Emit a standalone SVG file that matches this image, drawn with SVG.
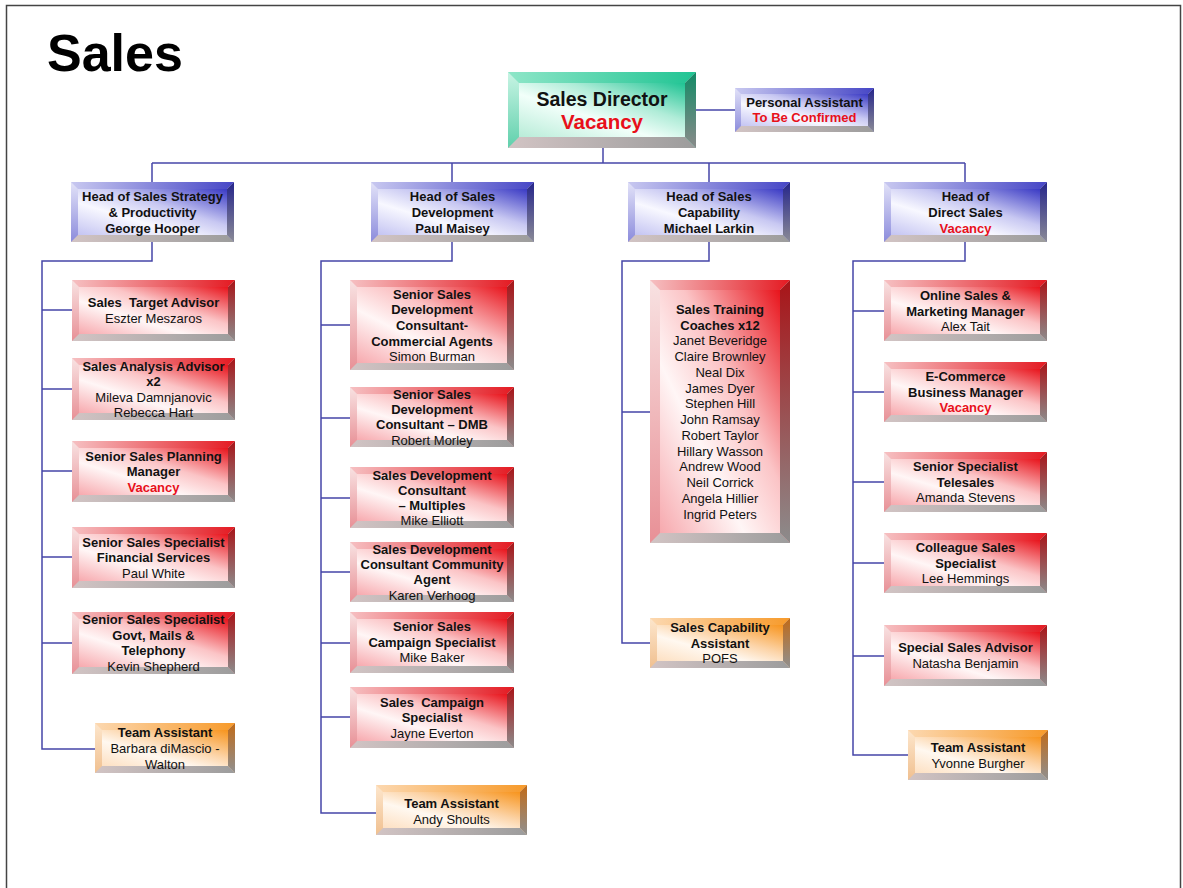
<svg xmlns="http://www.w3.org/2000/svg" width="1183" height="888" viewBox="0 0 1183 888">
<defs>
<linearGradient id="redF" x1="0" y1="1" x2="1" y2="0"><stop offset="0" stop-color="#f7a9ae"/><stop offset="0.35" stop-color="#fff6f6"/><stop offset="0.6" stop-color="#fbc4c6"/><stop offset="1" stop-color="#e8141c"/></linearGradient>
<linearGradient id="redT" x1="0" y1="0" x2="1" y2="0"><stop offset="0" stop-color="#f6c0c2"/><stop offset="1" stop-color="#e41a22"/></linearGradient>
<linearGradient id="redR" x1="0" y1="0" x2="0" y2="1"><stop offset="0" stop-color="#a81418"/><stop offset="1" stop-color="#8c8c8c"/></linearGradient>
<linearGradient id="redL" x1="0" y1="0" x2="0" y2="1"><stop offset="0" stop-color="#f8e2e2"/><stop offset="1" stop-color="#e89096"/></linearGradient>
<linearGradient id="greyB" x1="0" y1="0" x2="1" y2="0"><stop offset="0" stop-color="#d2c4c4"/><stop offset="1" stop-color="#9c9c9c"/></linearGradient>
<linearGradient id="bluF" x1="0" y1="1" x2="1" y2="0"><stop offset="0" stop-color="#c4c4f2"/><stop offset="0.35" stop-color="#f8f8ff"/><stop offset="0.6" stop-color="#c8c8f2"/><stop offset="1" stop-color="#3a3ac4"/></linearGradient>
<linearGradient id="bluT" x1="0" y1="0" x2="1" y2="0"><stop offset="0" stop-color="#c8c8f0"/><stop offset="1" stop-color="#4646c6"/></linearGradient>
<linearGradient id="bluR" x1="0" y1="0" x2="0" y2="1"><stop offset="0" stop-color="#25258a"/><stop offset="1" stop-color="#8a8a96"/></linearGradient>
<linearGradient id="bluL" x1="0" y1="0" x2="0" y2="1"><stop offset="0" stop-color="#e2e2f8"/><stop offset="1" stop-color="#8c8cdc"/></linearGradient>
<linearGradient id="grnF" x1="0" y1="1" x2="1" y2="0"><stop offset="0" stop-color="#b8ecd8"/><stop offset="0.4" stop-color="#f2fffa"/><stop offset="0.65" stop-color="#b0ecd8"/><stop offset="1" stop-color="#1ec393"/></linearGradient>
<linearGradient id="grnT" x1="0" y1="0" x2="1" y2="0"><stop offset="0" stop-color="#8ee6c8"/><stop offset="1" stop-color="#20c493"/></linearGradient>
<linearGradient id="grnR" x1="0" y1="0" x2="0" y2="1"><stop offset="0" stop-color="#138a66"/><stop offset="1" stop-color="#8a8a8a"/></linearGradient>
<linearGradient id="grnL" x1="0" y1="0" x2="0" y2="1"><stop offset="0" stop-color="#c8f4e4"/><stop offset="1" stop-color="#60d0ac"/></linearGradient>
<linearGradient id="orgF" x1="0" y1="1" x2="1" y2="0"><stop offset="0" stop-color="#fde0c2"/><stop offset="0.35" stop-color="#fff8f0"/><stop offset="0.6" stop-color="#fcd4a8"/><stop offset="1" stop-color="#f7941d"/></linearGradient>
<linearGradient id="orgT" x1="0" y1="0" x2="1" y2="0"><stop offset="0" stop-color="#fcd8b0"/><stop offset="1" stop-color="#f79a2a"/></linearGradient>
<linearGradient id="orgR" x1="0" y1="0" x2="0" y2="1"><stop offset="0" stop-color="#c06a18"/><stop offset="1" stop-color="#909090"/></linearGradient>
<linearGradient id="orgL" x1="0" y1="0" x2="0" y2="1"><stop offset="0" stop-color="#fde6cc"/><stop offset="1" stop-color="#f0c090"/></linearGradient>
</defs>
<style>
text{font-family:"Liberation Sans",Arial,sans-serif;font-size:13px;fill:#111;text-anchor:middle}
.bd{font-weight:bold}
.vac{font-weight:bold;fill:#e8101a}
.title{font-size:52px;font-weight:bold;text-anchor:start;fill:#000}
.conn path{fill:none;stroke:#4646a8;stroke-width:1.5}
.frame{fill:none;stroke:#444;stroke-width:1.5}
.red .o{fill:url(#redL)} .red .t{fill:url(#redT)} .red .r{fill:url(#redR)} .red .b{fill:url(#greyB)} .red .f{fill:url(#redF)}
.blu .o{fill:url(#bluL)} .blu .t{fill:url(#bluT)} .blu .r{fill:url(#bluR)} .blu .b{fill:url(#greyB)} .blu .f{fill:url(#bluF)}
.grn .o{fill:url(#grnL)} .grn .t{fill:url(#grnT)} .grn .r{fill:url(#grnR)} .grn .b{fill:url(#greyB)} .grn .f{fill:url(#grnF)}
.org .o{fill:url(#orgL)} .org .t{fill:url(#orgT)} .org .r{fill:url(#orgR)} .org .b{fill:url(#greyB)} .org .f{fill:url(#orgF)}
</style>
<rect width="1183" height="888" fill="#fff"/>
<path class="frame" d="M6.5 888 V5.5 H1180.5 V888"/>
<text class="title" x="47" y="71">Sales</text>

<g class="conn" id="connectors">
<path d="M696 110 H735"/>
<path d="M603 148 V163"/>
<path d="M152 163 H965"/>
<path d="M152 163 V182 M452 163 V182 M709 163 V182 M965 163 V182"/>
<path d="M152 242 V261 H42 V749 H95 M42 310 H72 M42 389 H72 M42 471 H72 M42 557 H72 M42 643 H72"/>
<path d="M452 242 V261 H321 V813 H376 M321 325 H350 M321 418 H350 M321 498 H350 M321 572 H350 M321 643 H350 M321 717 H350"/>
<path d="M709 242 V261 H622 V643 H650 M622 412 H650"/>
<path d="M965 242 V261 H853 V755 H908 M853 311 H884 M853 392 H884 M853 482 H884 M853 563 H884 M853 656 H884"/>
</g>

<g id="sales-director" class="grn">
<rect class="o" x="508" y="72" width="188" height="76"/>
<polygon class="t" points="508,72 696,72 685,83 519,83"/>
<polygon class="r" points="696,72 696,148 685,137 685,83"/>
<polygon class="b" points="508,148 696,148 685,137 519,137"/>
<rect class="f" x="519" y="83" width="166" height="54"/>
<text class="bd" x="602" y="106" style="font-size:19.5px">Sales Director</text>
<text class="vac" x="602" y="129" style="font-size:20.5px">Vacancy</text>
</g>

<g id="personal-assistant" class="blu">
<rect class="o" x="735" y="88" width="139" height="44"/>
<polygon class="t" points="735,88 874,88 868,94 741,94"/>
<polygon class="r" points="874,88 874,132 868,126 868,94"/>
<polygon class="b" points="735,132 874,132 868,126 741,126"/>
<rect class="f" x="741" y="94" width="127" height="32"/>
<text class="bd" x="804.5" y="106.5">Personal Assistant</text>
<text class="vac" x="804.5" y="122">To Be Confirmed</text>
</g>

<g id="head-strategy" class="blu">
<rect class="o" x="71" y="182" width="163" height="60"/>
<polygon class="t" points="71,182 234,182 227,189 78,189"/>
<polygon class="r" points="234,182 234,242 227,235 227,189"/>
<polygon class="b" points="71,242 234,242 227,235 78,235"/>
<rect class="f" x="78" y="189" width="149" height="46"/>
<text class="bd" x="152.5" y="201">Head of Sales Strategy</text>
<text class="bd" x="152.5" y="217">&amp; Productivity</text>
<text class="bd" x="152.5" y="233">George Hooper</text>
</g>

<g id="head-development" class="blu">
<rect class="o" x="371" y="182" width="163" height="60"/>
<polygon class="t" points="371,182 534,182 527,189 378,189"/>
<polygon class="r" points="534,182 534,242 527,235 527,189"/>
<polygon class="b" points="371,242 534,242 527,235 378,235"/>
<rect class="f" x="378" y="189" width="149" height="46"/>
<text class="bd" x="452.5" y="201">Head of Sales</text>
<text class="bd" x="452.5" y="217">Development</text>
<text class="bd" x="452.5" y="233">Paul Maisey</text>
</g>

<g id="head-capability" class="blu">
<rect class="o" x="628" y="182" width="162" height="60"/>
<polygon class="t" points="628,182 790,182 783,189 635,189"/>
<polygon class="r" points="790,182 790,242 783,235 783,189"/>
<polygon class="b" points="628,242 790,242 783,235 635,235"/>
<rect class="f" x="635" y="189" width="148" height="46"/>
<text class="bd" x="709" y="201">Head of Sales</text>
<text class="bd" x="709" y="217">Capability</text>
<text class="bd" x="709" y="233">Michael Larkin</text>
</g>

<g id="head-direct" class="blu">
<rect class="o" x="884" y="182" width="163" height="60"/>
<polygon class="t" points="884,182 1047,182 1040,189 891,189"/>
<polygon class="r" points="1047,182 1047,242 1040,235 1040,189"/>
<polygon class="b" points="884,242 1047,242 1040,235 891,235"/>
<rect class="f" x="891" y="189" width="149" height="46"/>
<text class="bd" x="965.5" y="201">Head of</text>
<text class="bd" x="965.5" y="217">Direct Sales</text>
<text class="vac" x="965.5" y="233">Vacancy</text>
</g>

<!-- Column 1 -->
<g id="c1-target" class="red">
<rect class="o" x="72" y="280" width="163" height="61"/>
<polygon class="t" points="72,280 235,280 228,287 79,287"/>
<polygon class="r" points="235,280 235,341 228,334 228,287"/>
<polygon class="b" points="72,341 235,341 228,334 79,334"/>
<rect class="f" x="79" y="287" width="149" height="47"/>
<text class="bd" x="153.5" y="307.4" style="white-space:pre">Sales  Target Advisor</text>
<text x="153.5" y="323">Eszter Meszaros</text>
</g>

<g id="c1-analysis" class="red">
<rect class="o" x="72" y="358" width="163" height="62"/>
<polygon class="t" points="72,358 235,358 228,365 79,365"/>
<polygon class="r" points="235,358 235,420 228,413 228,365"/>
<polygon class="b" points="72,420 235,420 228,413 79,413"/>
<rect class="f" x="79" y="365" width="149" height="48"/>
<text class="bd" x="153.5" y="370.5">Sales Analysis Advisor</text>
<text class="bd" x="153.5" y="386">x2</text>
<text x="153.5" y="401.5">Mileva Damnjanovic</text>
<text x="153.5" y="417">Rebecca Hart</text>
</g>

<g id="c1-planning" class="red">
<rect class="o" x="72" y="441" width="163" height="61"/>
<polygon class="t" points="72,441 235,441 228,448 79,448"/>
<polygon class="r" points="235,441 235,502 228,495 228,448"/>
<polygon class="b" points="72,502 235,502 228,495 79,495"/>
<rect class="f" x="79" y="448" width="149" height="47"/>
<text class="bd" x="153.5" y="460.5">Senior Sales Planning</text>
<text class="bd" x="153.5" y="476">Manager</text>
<text class="vac" x="153.5" y="491.5">Vacancy</text>
</g>

<g id="c1-financial" class="red">
<rect class="o" x="72" y="527" width="163" height="61"/>
<polygon class="t" points="72,527 235,527 228,534 79,534"/>
<polygon class="r" points="235,527 235,588 228,581 228,534"/>
<polygon class="b" points="72,588 235,588 228,581 79,581"/>
<rect class="f" x="79" y="534" width="149" height="47"/>
<text class="bd" x="153.5" y="546.7">Senior Sales Specialist</text>
<text class="bd" x="153.5" y="562.2">Financial Services</text>
<text x="153.5" y="577.7">Paul White</text>
</g>

<g id="c1-govt" class="red">
<rect class="o" x="72" y="612" width="163" height="62"/>
<polygon class="t" points="72,612 235,612 228,619 79,619"/>
<polygon class="r" points="235,612 235,674 228,667 228,619"/>
<polygon class="b" points="72,674 235,674 228,667 79,667"/>
<rect class="f" x="79" y="619" width="149" height="48"/>
<text class="bd" x="153.5" y="624">Senior Sales Specialist</text>
<text class="bd" x="153.5" y="639.7">Govt, Mails &amp;</text>
<text class="bd" x="153.5" y="655.4">Telephony</text>
<text x="153.5" y="671">Kevin Shepherd</text>
</g>

<g id="c1-assistant" class="org">
<rect class="o" x="95" y="723" width="140" height="50"/>
<polygon class="t" points="95,723 235,723 228,730 102,730"/>
<polygon class="r" points="235,723 235,773 228,766 228,730"/>
<polygon class="b" points="95,773 235,773 228,766 102,766"/>
<rect class="f" x="102" y="730" width="126" height="36"/>
<text class="bd" x="165" y="737">Team Assistant</text>
<text x="165" y="753">Barbara diMascio -</text>
<text x="165" y="769">Walton</text>
</g>

<!-- Column 2 -->
<g id="c2-commercial" class="red">
<rect class="o" x="350" y="280" width="164" height="90"/>
<polygon class="t" points="350,280 514,280 507,287 357,287"/>
<polygon class="r" points="514,280 514,370 507,363 507,287"/>
<polygon class="b" points="350,370 514,370 507,363 357,363"/>
<rect class="f" x="357" y="287" width="150" height="76"/>
<text class="bd" x="432" y="298.5">Senior Sales</text>
<text class="bd" x="432" y="314.2">Development</text>
<text class="bd" x="432" y="329.9">Consultant-</text>
<text class="bd" x="432" y="345.6">Commercial Agents</text>
<text x="432" y="361.3">Simon Burman</text>
</g>

<g id="c2-dmb" class="red">
<rect class="o" x="350" y="387" width="164" height="60"/>
<polygon class="t" points="350,387 514,387 507,394 357,394"/>
<polygon class="r" points="514,387 514,447 507,440 507,394"/>
<polygon class="b" points="350,447 514,447 507,440 357,440"/>
<rect class="f" x="357" y="394" width="150" height="46"/>
<text class="bd" x="432" y="398.8">Senior Sales</text>
<text class="bd" x="432" y="414">Development</text>
<text class="bd" x="432" y="429.3">Consultant – DMB</text>
<text x="432" y="444.6">Robert Morley</text>
</g>

<g id="c2-multiples" class="red">
<rect class="o" x="350" y="467" width="164" height="61"/>
<polygon class="t" points="350,467 514,467 507,474 357,474"/>
<polygon class="r" points="514,467 514,528 507,521 507,474"/>
<polygon class="b" points="350,528 514,528 507,521 357,521"/>
<rect class="f" x="357" y="474" width="150" height="47"/>
<text class="bd" x="432" y="479.5">Sales Development</text>
<text class="bd" x="432" y="494.8">Consultant</text>
<text class="bd" x="432" y="510.1">– Multiples</text>
<text x="432" y="525.4">Mike Elliott</text>
</g>

<g id="c2-community" class="red">
<rect class="o" x="350" y="542" width="164" height="60"/>
<polygon class="t" points="350,542 514,542 507,549 357,549"/>
<polygon class="r" points="514,542 514,602 507,595 507,549"/>
<polygon class="b" points="350,602 514,602 507,595 357,595"/>
<rect class="f" x="357" y="549" width="150" height="46"/>
<text class="bd" x="432" y="553.8">Sales Development</text>
<text class="bd" x="432" y="569">Consultant Community</text>
<text class="bd" x="432" y="584.3">Agent</text>
<text x="432" y="599.6">Karen Verhoog</text>
</g>

<g id="c2-senior-campaign" class="red">
<rect class="o" x="350" y="612" width="164" height="61"/>
<polygon class="t" points="350,612 514,612 507,619 357,619"/>
<polygon class="r" points="514,612 514,673 507,666 507,619"/>
<polygon class="b" points="350,673 514,673 507,666 357,666"/>
<rect class="f" x="357" y="619" width="150" height="47"/>
<text class="bd" x="432" y="631">Senior Sales</text>
<text class="bd" x="432" y="646.7">Campaign Specialist</text>
<text x="432" y="662.4">Mike Baker</text>
</g>

<g id="c2-campaign" class="red">
<rect class="o" x="350" y="687" width="164" height="61"/>
<polygon class="t" points="350,687 514,687 507,694 357,694"/>
<polygon class="r" points="514,687 514,748 507,741 507,694"/>
<polygon class="b" points="350,748 514,748 507,741 357,741"/>
<rect class="f" x="357" y="694" width="150" height="47"/>
<text class="bd" x="432" y="706.5" style="white-space:pre">Sales  Campaign</text>
<text class="bd" x="432" y="722.2">Specialist</text>
<text x="432" y="737.9">Jayne Everton</text>
</g>

<g id="c2-assistant" class="org">
<rect class="o" x="376" y="785" width="151" height="50"/>
<polygon class="t" points="376,785 527,785 520,792 383,792"/>
<polygon class="r" points="527,785 527,835 520,828 520,792"/>
<polygon class="b" points="376,835 527,835 520,828 383,828"/>
<rect class="f" x="383" y="792" width="137" height="36"/>
<text class="bd" x="451.5" y="807.5">Team Assistant</text>
<text x="451.5" y="823.5">Andy Shoults</text>
</g>

<!-- Column 3 -->
<g id="c3-coaches" class="red">
<rect class="o" x="650" y="280" width="140" height="263"/>
<polygon class="t" points="650,280 790,280 780,290 660,290"/>
<polygon class="r" points="790,280 790,543 780,533 780,290"/>
<polygon class="b" points="650,543 790,543 780,533 660,533"/>
<rect class="f" x="660" y="290" width="120" height="243"/>
<text class="bd" x="720" y="313.8">Sales Training</text>
<text class="bd" x="720" y="329.6">Coaches x12</text>
<text x="720" y="345.3">Janet Beveridge</text>
<text x="720" y="361.1">Claire Brownley</text>
<text x="720" y="376.8">Neal Dix</text>
<text x="720" y="392.6">James Dyer</text>
<text x="720" y="408.3">Stephen Hill</text>
<text x="720" y="424.1">John Ramsay</text>
<text x="720" y="439.8">Robert Taylor</text>
<text x="720" y="455.6">Hillary Wasson</text>
<text x="720" y="471.3">Andrew Wood</text>
<text x="720" y="487.1">Neil Corrick</text>
<text x="720" y="502.8">Angela Hillier</text>
<text x="720" y="518.6">Ingrid Peters</text>
</g>

<g id="c3-assistant" class="org">
<rect class="o" x="650" y="618" width="140" height="50"/>
<polygon class="t" points="650,618 790,618 783,625 657,625"/>
<polygon class="r" points="790,618 790,668 783,661 783,625"/>
<polygon class="b" points="650,668 790,668 783,661 657,661"/>
<rect class="f" x="657" y="625" width="126" height="36"/>
<text class="bd" x="720" y="632.3">Sales Capability</text>
<text class="bd" x="720" y="647.8">Assistant</text>
<text x="720" y="663.3">POFS</text>
</g>

<!-- Column 4 -->
<g id="c4-online" class="red">
<rect class="o" x="884" y="280" width="163" height="61"/>
<polygon class="t" points="884,280 1047,280 1040,287 891,287"/>
<polygon class="r" points="1047,280 1047,341 1040,334 1040,287"/>
<polygon class="b" points="884,341 1047,341 1040,334 891,334"/>
<rect class="f" x="891" y="287" width="149" height="47"/>
<text class="bd" x="965.5" y="299.8">Online Sales &amp;</text>
<text class="bd" x="965.5" y="315.5">Marketing Manager</text>
<text x="965.5" y="331.2">Alex Tait</text>
</g>

<g id="c4-ecommerce" class="red">
<rect class="o" x="884" y="362" width="163" height="60"/>
<polygon class="t" points="884,362 1047,362 1040,369 891,369"/>
<polygon class="r" points="1047,362 1047,422 1040,415 1040,369"/>
<polygon class="b" points="884,422 1047,422 1040,415 891,415"/>
<rect class="f" x="891" y="369" width="149" height="46"/>
<text class="bd" x="965.5" y="381">E-Commerce</text>
<text class="bd" x="965.5" y="396.7">Business Manager</text>
<text class="vac" x="965.5" y="412.4">Vacancy</text>
</g>

<g id="c4-telesales" class="red">
<rect class="o" x="884" y="452" width="163" height="60"/>
<polygon class="t" points="884,452 1047,452 1040,459 891,459"/>
<polygon class="r" points="1047,452 1047,512 1040,505 1040,459"/>
<polygon class="b" points="884,512 1047,512 1040,505 891,505"/>
<rect class="f" x="891" y="459" width="149" height="46"/>
<text class="bd" x="965.5" y="471">Senior Specialist</text>
<text class="bd" x="965.5" y="486.7">Telesales</text>
<text x="965.5" y="502.4">Amanda Stevens</text>
</g>

<g id="c4-colleague" class="red">
<rect class="o" x="884" y="533" width="163" height="60"/>
<polygon class="t" points="884,533 1047,533 1040,540 891,540"/>
<polygon class="r" points="1047,533 1047,593 1040,586 1040,540"/>
<polygon class="b" points="884,593 1047,593 1040,586 891,586"/>
<rect class="f" x="891" y="540" width="149" height="46"/>
<text class="bd" x="965.5" y="552">Colleague Sales</text>
<text class="bd" x="965.5" y="567.7">Specialist</text>
<text x="965.5" y="583.4">Lee Hemmings</text>
</g>

<g id="c4-special" class="red">
<rect class="o" x="884" y="625" width="163" height="61"/>
<polygon class="t" points="884,625 1047,625 1040,632 891,632"/>
<polygon class="r" points="1047,625 1047,686 1040,679 1040,632"/>
<polygon class="b" points="884,686 1047,686 1040,679 891,679"/>
<rect class="f" x="891" y="632" width="149" height="47"/>
<text class="bd" x="965.5" y="652.2">Special Sales Advisor</text>
<text x="965.5" y="668">Natasha Benjamin</text>
</g>

<g id="c4-assistant" class="org">
<rect class="o" x="908" y="730" width="140" height="50"/>
<polygon class="t" points="908,730 1048,730 1041,737 915,737"/>
<polygon class="r" points="1048,730 1048,780 1041,773 1041,737"/>
<polygon class="b" points="908,780 1048,780 1041,773 915,773"/>
<rect class="f" x="915" y="737" width="126" height="36"/>
<text class="bd" x="978" y="751.7">Team Assistant</text>
<text x="978" y="767.7">Yvonne Burgher</text>
</g>
</svg>
